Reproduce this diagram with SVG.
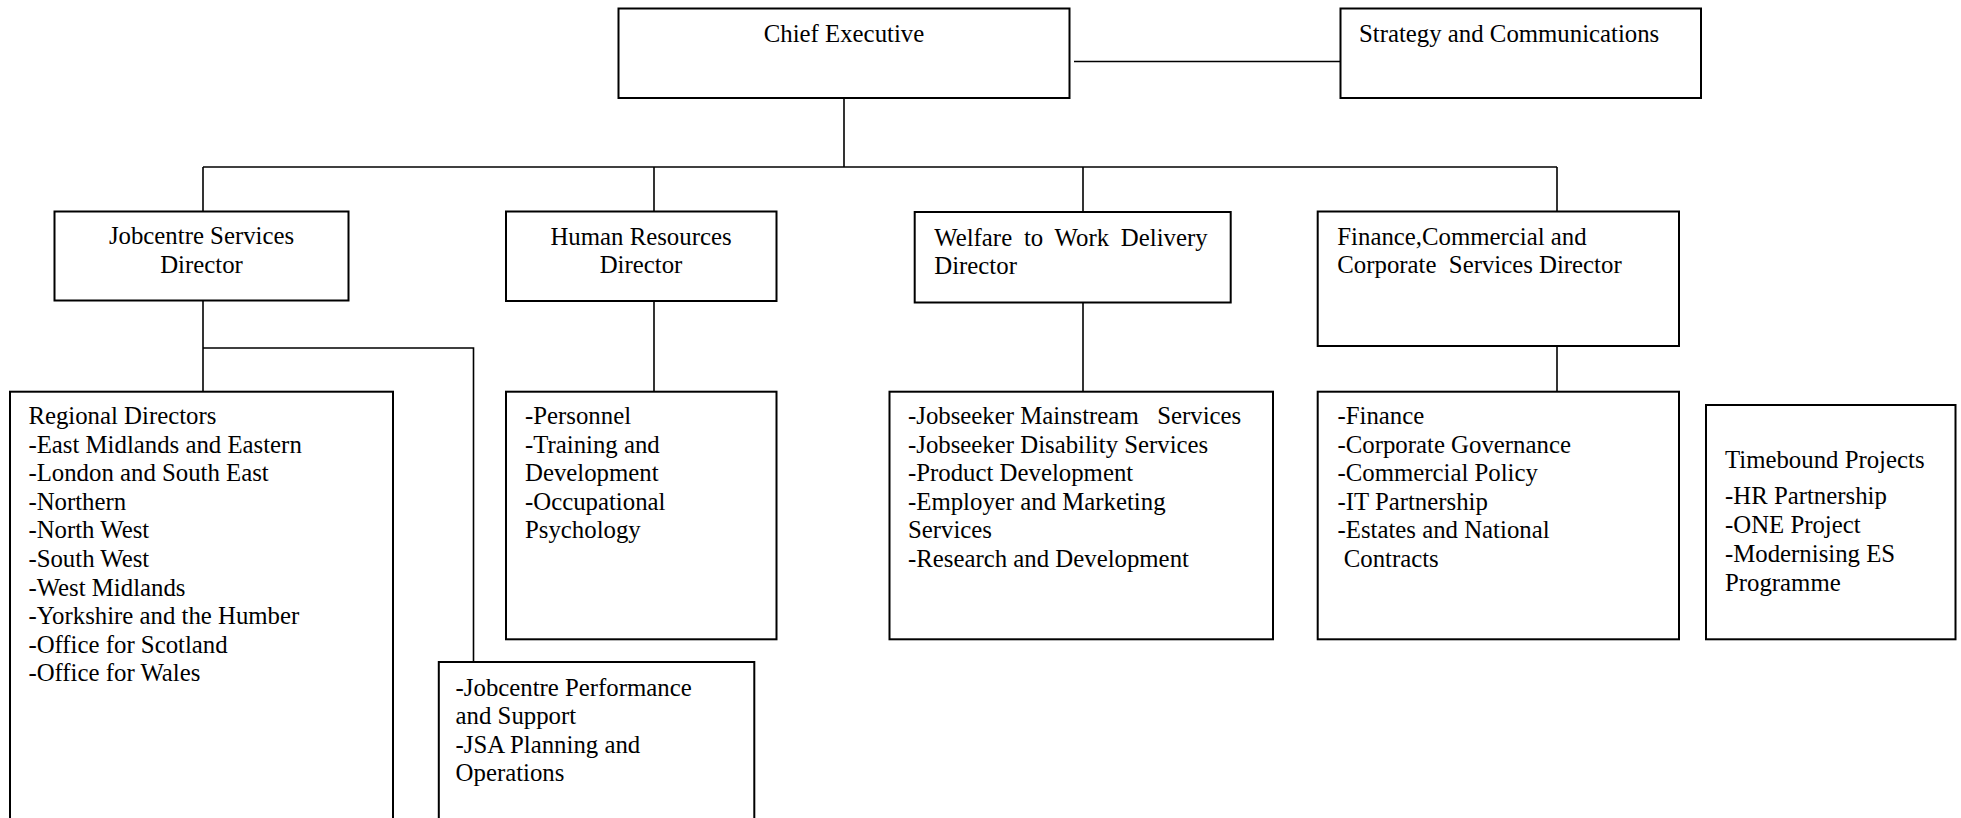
<svg xmlns="http://www.w3.org/2000/svg" width="1961" height="818" viewBox="0 0 1961 818">
<style>
.box{fill:#fff;stroke:#000;stroke-width:2}
.ln{fill:none;stroke:#000;stroke-width:1.6}
text{font-family:"Liberation Serif","Times New Roman",serif;font-size:24.8px;fill:#000;white-space:pre}
.c{text-anchor:middle}
</style>
<rect width="1961" height="818" fill="#fff"/>
<g id="connectors">
<line class="ln" x1="1074" y1="61.5" x2="1346" y2="61.5"/>
<line class="ln" x1="844" y1="98" x2="844" y2="167"/>
<line class="ln" x1="203" y1="167" x2="1557" y2="167"/>
<line class="ln" x1="203" y1="167" x2="203" y2="211"/>
<line class="ln" x1="654" y1="167" x2="654" y2="211"/>
<line class="ln" x1="1083" y1="167" x2="1083" y2="212"/>
<line class="ln" x1="1557" y1="167" x2="1557" y2="211"/>
<line class="ln" x1="203" y1="301" x2="203" y2="392"/>
<polyline class="ln" points="203,348 473.5,348 473.5,662"/>
<line class="ln" x1="654" y1="301" x2="654" y2="392"/>
<line class="ln" x1="1083" y1="302" x2="1083" y2="392"/>
<line class="ln" x1="1557" y1="346" x2="1557" y2="392"/>
</g>
<g id="chief">
<rect class="box" x="618.5" y="8.5" width="451" height="89.5"/>
<text class="c" x="844" y="41.5">Chief Executive</text>
</g>
<g id="strategy">
<rect class="box" x="1340.5" y="8.5" width="360.5" height="89.5"/>
<text x="1359" y="41.5">Strategy and Communications</text>
</g>
<g id="jobcentre">
<rect class="box" x="54.5" y="211.5" width="294" height="89"/>
<text class="c" x="201.5" y="244.3">Jobcentre Services</text>
<text class="c" x="201.5" y="272.8">Director</text>
</g>
<g id="hr">
<rect class="box" x="506" y="211.5" width="270.5" height="89.5"/>
<text class="c" x="641" y="244.5">Human Resources</text>
<text class="c" x="641" y="273">Director</text>
</g>
<g id="welfare">
<rect class="box" x="914.7" y="212" width="316" height="90.5"/>
<text x="934.3" y="245.5" word-spacing="5.6">Welfare to Work Delivery</text>
<text x="934.3" y="273.5">Director</text>
</g>
<g id="finance">
<rect class="box" x="1317.7" y="211.5" width="361.3" height="134.5"/>
<text x="1337.3" y="244.5">Finance,Commercial and</text>
<text x="1337.3" y="273">Corporate  Services Director</text>
</g>
<g id="regional">
<rect class="box" x="10" y="391.7" width="383" height="440"/>
<text x="28.4" y="424">Regional Directors</text>
<text x="28.4" y="452.6">-East Midlands and Eastern</text>
<text x="28.4" y="481.2">-London and South East</text>
<text x="28.4" y="509.8">-Northern</text>
<text x="28.4" y="538.4">-North West</text>
<text x="28.4" y="567">-South West</text>
<text x="28.4" y="595.6">-West Midlands</text>
<text x="28.4" y="624.2">-Yorkshire and the Humber</text>
<text x="28.4" y="652.8">-Office for Scotland</text>
<text x="28.4" y="681.4">-Office for Wales</text>
</g>
<g id="jobcentre-performance">
<rect class="box" x="438.8" y="662" width="315.5" height="170"/>
<text x="455.6" y="695.5">-Jobcentre Performance</text>
<text x="455.6" y="724">and Support</text>
<text x="455.6" y="752.5">-JSA Planning and</text>
<text x="455.6" y="781">Operations</text>
</g>
<g id="hr-list">
<rect class="box" x="506" y="391.7" width="270.5" height="247.6"/>
<text x="525" y="424">-Personnel</text>
<text x="525" y="452.6">-Training and</text>
<text x="525" y="481.2">Development</text>
<text x="525" y="509.8">-Occupational</text>
<text x="525" y="538.4">Psychology</text>
</g>
<g id="welfare-list">
<rect class="box" x="889.5" y="391.7" width="383.5" height="247.6"/>
<text x="908" y="424">-Jobseeker Mainstream   Services</text>
<text x="908" y="452.6">-Jobseeker Disability Services</text>
<text x="908" y="481.2">-Product Development</text>
<text x="908" y="509.8">-Employer and Marketing</text>
<text x="908" y="538.4">Services</text>
<text x="908" y="567">-Research and Development</text>
</g>
<g id="finance-list">
<rect class="box" x="1317.7" y="391.7" width="361.3" height="247.6"/>
<text x="1337.5" y="424">-Finance</text>
<text x="1337.5" y="452.6">-Corporate Governance</text>
<text x="1337.5" y="481.2">-Commercial Policy</text>
<text x="1337.5" y="509.8">-IT Partnership</text>
<text x="1337.5" y="538.4">-Estates and National</text>
<text x="1337.5" y="567"> Contracts</text>
</g>
<g id="timebound">
<rect class="box" x="1706" y="405" width="249.5" height="234.3"/>
<text x="1725" y="467.5">Timebound Projects</text>
<text x="1725" y="504">-HR Partnership</text>
<text x="1725" y="532.5">-ONE Project</text>
<text x="1725" y="561.5">-Modernising ES</text>
<text x="1725" y="590.5">Programme</text>
</g>
</svg>
